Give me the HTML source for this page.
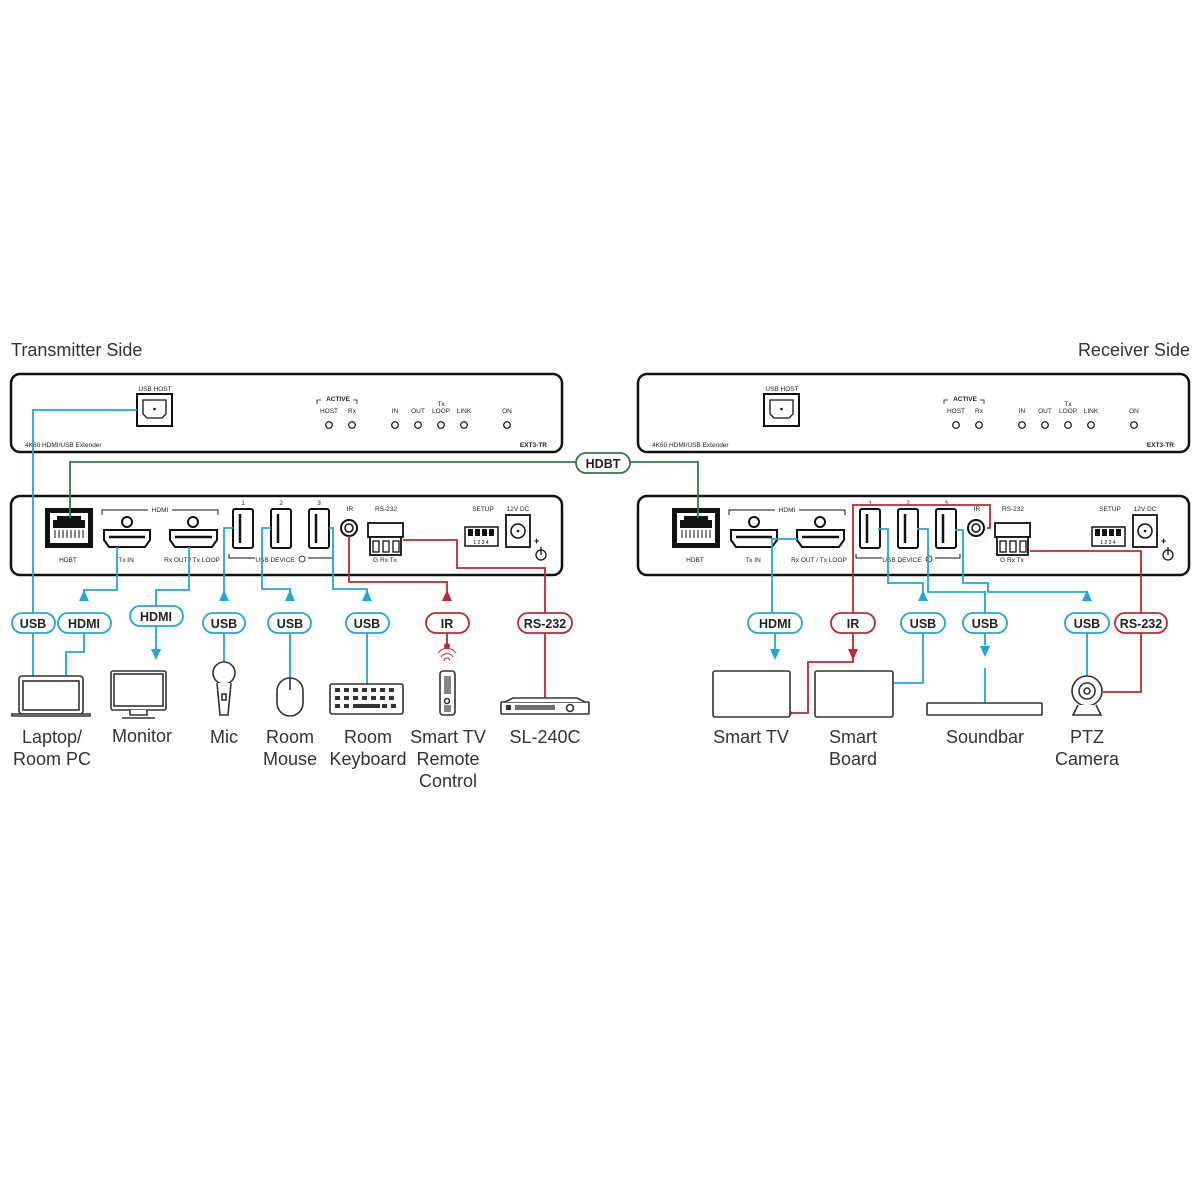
<!DOCTYPE html>
<html><head><meta charset="utf-8"><style>
html,body{margin:0;padding:0;background:#fff;}
svg{display:block;font-family:"Liberation Sans","DejaVu Sans",sans-serif;}
.s{font-size:6.5px;fill:#222;}
.lbl{font-size:18px;fill:#333;text-anchor:middle;}
.pill{font-size:12.5px;font-weight:bold;text-anchor:middle;}
</style></head><body>
<svg width="1200" height="1200" viewBox="0 0 1200 1200" xmlns="http://www.w3.org/2000/svg">
<defs>
<g id="panel">
 <!-- top panel -->
 <rect x="11" y="374" width="551" height="78" rx="9" fill="#fff" stroke="#111" stroke-width="2.5"/>
 <text x="155" y="391" class="s" text-anchor="middle">USB HOST</text>
 <rect x="137" y="394" width="35" height="32" fill="#fff" stroke="#111" stroke-width="2"/>
 <path d="M143 400h23v14l-4 4h-15l-4-4z" fill="none" stroke="#111" stroke-width="1.3"/>
 <circle cx="154.5" cy="409" r="1.3" fill="#111"/>
 <path d="M317 404v-4h4M357 404v-4h-4" fill="none" stroke="#111" stroke-width="0.8"/>
 <text x="338" y="401" class="s" text-anchor="middle" font-weight="bold">ACTIVE</text>
 <text x="441" y="406" class="s" text-anchor="middle">Tx</text>
 <g class="s" text-anchor="middle">
  <text x="329" y="413">HOST</text><text x="352" y="413">Rx</text><text x="395" y="413">IN</text><text x="418" y="413">OUT</text><text x="441" y="413">LOOP</text><text x="464" y="413">LINK</text><text x="507" y="413">ON</text>
 </g>
 <g fill="#fff" stroke="#111" stroke-width="1.2">
  <circle cx="329" cy="425" r="3.3"/><circle cx="352" cy="425" r="3.3"/><circle cx="395" cy="425" r="3.3"/><circle cx="418" cy="425" r="3.3"/><circle cx="441" cy="425" r="3.3"/><circle cx="464" cy="425" r="3.3"/><circle cx="507" cy="425" r="3.3"/>
 </g>
 <text x="25" y="447" class="s">4K60 HDMI/USB Extender</text>
 <text x="547" y="447" class="s" text-anchor="end" font-weight="bold">EXT3-TR</text>
 <!-- bottom panel -->
 <rect x="11" y="496" width="551" height="79" rx="9" fill="#fff" stroke="#111" stroke-width="2.5"/>
 <rect x="45" y="508" width="48" height="40" fill="#111"/>
 <path d="M50 513h38v30h-38z M57 516h24v4h4v8h-32v-8h4z" fill="#fff" fill-rule="evenodd"/>
 <rect x="52" y="530" width="34" height="10" fill="#fff"/>
 <path d="M55 530v8M59 530v8M63 530v8M67 530v8M71 530v8M75 530v8M79 530v8M83 530v8" stroke="#111" stroke-width="1"/>
 <text x="68" y="562" class="s" text-anchor="middle">HDBT</text>
 <path d="M102 515v-5h46M172 510h46v5" fill="none" stroke="#111" stroke-width="1"/>
 <text x="160" y="512" class="s" text-anchor="middle">HDMI</text>
 <g fill="#fff" stroke="#111" stroke-width="2">
  <path d="M104 530h46v10l-5 7h-36l-5-7z"/>
  <path d="M170 530h47v10l-5 7h-37l-5-7z"/>
  <circle cx="127" cy="522" r="5"/><circle cx="193" cy="522" r="5"/>
 </g>
 <path d="M109 537h36M175 537h37" stroke="#111" stroke-width="2.5"/>
 <text x="126" y="562" class="s" text-anchor="middle">Tx IN</text>
 <text x="192" y="562" class="s" text-anchor="middle">Rx OUT / Tx LOOP</text>
 <g fill="#fff" stroke="#111" stroke-width="2">
  <rect x="233" y="509" width="20" height="39" rx="2"/><rect x="271" y="509" width="20" height="39" rx="2"/><rect x="309" y="509" width="20" height="39" rx="2"/>
 </g>
 <path d="M240 514v29M278 514v29M316 514v29" stroke="#111" stroke-width="2.5"/>
 <g class="s" text-anchor="middle"><text x="243" y="505">1</text><text x="281" y="505">2</text><text x="319" y="505">3</text></g>
 <path d="M229 554v4h26M308 558h25v-4" fill="none" stroke="#111" stroke-width="1"/>
 <text x="275" y="562" class="s" text-anchor="middle">USB DEVICE</text>
 <circle cx="302" cy="559" r="3" fill="none" stroke="#111" stroke-width="0.8"/>
 <text x="350" y="511" class="s" text-anchor="middle">IR</text>
 <circle cx="349" cy="528" r="8" fill="#fff" stroke="#111" stroke-width="2"/><circle cx="349" cy="528" r="4" fill="#fff" stroke="#111" stroke-width="1.5"/>
 <text x="386" y="511" class="s" text-anchor="middle">RS-232</text>
 <rect x="368" y="523" width="35" height="14" fill="#fff" stroke="#111" stroke-width="1.8"/>
 <rect x="370" y="537" width="31" height="18" fill="#fff" stroke="#111" stroke-width="1.8"/>
 <g fill="#fff" stroke="#111" stroke-width="1.3"><rect x="373" y="541" width="6" height="11"/><rect x="383" y="541" width="6" height="11"/><rect x="393" y="541" width="6" height="11"/></g>
 <text x="385" y="562" class="s" text-anchor="middle">G Rx Tx</text>
 <text x="483" y="511" class="s" text-anchor="middle">SETUP</text>
 <rect x="465" y="527" width="33" height="19" fill="#fff" stroke="#111" stroke-width="1.5"/>
 <g fill="#111"><rect x="468" y="529" width="5" height="7"/><rect x="475" y="529" width="5" height="7"/><rect x="482" y="529" width="5" height="7"/><rect x="489" y="529" width="5" height="7"/></g>
 <text x="481" y="544" style="font-size:5px" text-anchor="middle">1 2 3 4</text>
 <text x="518" y="511" class="s" text-anchor="middle">12V DC</text>
 <rect x="506" y="515" width="24" height="32" fill="#fff" stroke="#111" stroke-width="1.8"/>
 <circle cx="518" cy="531" r="7" fill="none" stroke="#111" stroke-width="1.5"/><circle cx="518" cy="531" r="1.3" fill="#111"/>
 <text x="534" y="544" style="font-size:9px" font-weight="bold">+</text>
 <circle cx="541" cy="555" r="5" fill="none" stroke="#111" stroke-width="1.3"/><path d="M541 547v8" stroke="#111" stroke-width="1.3"/>
</g>
</defs>

<text x="11" y="356" style="font-size:18px;fill:#333">Transmitter Side</text>
<text x="1190" y="356" style="font-size:18px;fill:#333" text-anchor="end">Receiver Side</text>

<use href="#panel"/>
<use href="#panel" x="627"/>

<!-- HDBT green -->
<g fill="none" stroke="#2e7a47" stroke-width="1.8">
 <path d="M70 518V462H576M630 462H698V518"/>
</g>
<rect x="576" y="453" width="54" height="20" rx="10" fill="#fff" stroke="#2e7a47" stroke-width="1.8"/>
<text x="603" y="468" class="pill" fill="#222">HDBT</text>

<!-- TX blue lines -->
<g fill="none" stroke="#1ea7dd" stroke-width="1.8">
 <path d="M137 410H33V676"/>
 <path d="M117 547V590H84V598M84 633V652H66V676"/>
 <path d="M189 547V590H156V607M156 626V655"/>
 <path d="M233 528H224V598M224 633V662"/>
 <path d="M271 528H262V589H290V598M290 633V678"/>
 <path d="M329 528H333V589H367V598M367 633V684"/>
 <!-- RX -->
 <path d="M797 539H772V613M775 633V655"/>
 <path d="M878 529H888V583H923V598M923 633V683H893"/>
 <path d="M917 529H928V592H985V613M985 633V645M985 668V703"/>
 <path d="M955 530H963V583H988V592H1087V598M1087 633V677"/>
</g>
<g fill="#1ea7dd">
 <path d="M84 590l-5 11h10z"/><path d="M224 590l-5 11h10z"/><path d="M290 590l-5 11h10z"/><path d="M367 590l-5 11h10z"/>
 <path d="M156 660l-5-11h10z"/>
 <path d="M775 660l-5-11h10z"/>
 <path d="M923 590l-5 11h10z"/><path d="M1087 590l-5 11h10z"/>
 <path d="M985 657l-5-11h10z"/>
</g>
<!-- red lines -->
<g fill="none" stroke="#c4252f" stroke-width="1.8">
 <path d="M349 536V582H447V598M447 633V646"/>
 <path d="M403 540H457V568H545V613M545 633V698"/>
 <path d="M987 528H990V505H853V613M853 633V662H808V713H790"/>
 <path d="M1030 551H1141V613M1141 633V692H1103"/>
</g>
<g fill="#c4252f">
 <path d="M447 590l-5 11h10z"/><circle cx="447" cy="646" r="3"/>
 <path d="M853 660l-5-11h10z"/><circle cx="790" cy="713" r="2"/>
</g>
<path d="M441 657a7 7 0 0 1 12 0M438 653a11 11 0 0 1 18 0M444 661a3 3 0 0 1 6 0" fill="none" stroke="#c4252f" stroke-width="1"/>

<!-- pills -->
<g stroke-width="1.8" fill="#fff">
 <g stroke="#1ea7dd">
  <rect x="12" y="613" width="43" height="20" rx="10"/><rect x="58" y="613" width="53" height="20" rx="10"/><rect x="130" y="606" width="53" height="20" rx="10"/>
  <rect x="203" y="613" width="42" height="20" rx="10"/><rect x="268" y="613" width="43" height="20" rx="10"/><rect x="346" y="613" width="43" height="20" rx="10"/>
  <rect x="748" y="613" width="54" height="20" rx="10"/><rect x="901" y="613" width="44" height="20" rx="10"/><rect x="963" y="613" width="44" height="20" rx="10"/><rect x="1065" y="613" width="44" height="20" rx="10"/>
 </g>
 <g stroke="#c4252f">
  <rect x="426" y="613" width="43" height="20" rx="10"/><rect x="518" y="613" width="54" height="20" rx="10"/>
  <rect x="831" y="613" width="44" height="20" rx="10"/><rect x="1115" y="613" width="52" height="20" rx="10"/>
 </g>
</g>
<g class="pill" fill="#222">
 <text x="33" y="628">USB</text><text x="84" y="628">HDMI</text><text x="156" y="621">HDMI</text><text x="224" y="628">USB</text><text x="290" y="628">USB</text><text x="367" y="628">USB</text>
 <text x="447" y="628">IR</text><text x="545" y="628">RS-232</text>
 <text x="775" y="628">HDMI</text><text x="853" y="628">IR</text><text x="923" y="628">USB</text><text x="985" y="628">USB</text><text x="1087" y="628">USB</text><text x="1141" y="628">RS-232</text>
</g>

<!-- devices -->
<g fill="#fff" stroke="#333" stroke-width="1.6">
 <rect x="19" y="676" width="64" height="38" rx="3"/><rect x="23" y="681" width="56" height="29"/>
 <path d="M12 714h78v2H12z"/>
 <rect x="111" y="671" width="55" height="39" rx="2"/><rect x="114" y="674" width="49" height="32"/>
 <path d="M130 710v5h17v-5M122 718h33"/>
 <circle cx="224" cy="673" r="11"/><path d="M217 683l3 32h8l3-32"/><rect x="222" y="694" width="4" height="6"/>
 <rect x="277" y="678" width="26" height="38" rx="13"/><path d="M290 678v12"/>
 <rect x="330" y="684" width="73" height="30" rx="2"/>
 <rect x="440" y="671" width="15" height="44" rx="3"/><circle cx="447" cy="701" r="2.5"/>
 <rect x="501" y="702" width="88" height="12" rx="1"/><path d="M505 702l8-4h64l8 4"/><circle cx="570" cy="708" r="3.5"/>
 <!-- RX devices -->
 <rect x="713" y="671" width="77" height="46" rx="2"/>
 <rect x="815" y="671" width="78" height="46" rx="2"/>
 <rect x="927" y="703" width="115" height="12" rx="1"/>
 <circle cx="1087" cy="691" r="15"/><circle cx="1087" cy="691" r="8"/><circle cx="1087" cy="691" r="3"/>
 <path d="M1078 705l-5 10h28l-5-10"/>
</g>
<g fill="#333">
 <rect x="335" y="688" width="5" height="4"/><rect x="344" y="688" width="5" height="4"/><rect x="353" y="688" width="5" height="4"/><rect x="362" y="688" width="5" height="4"/><rect x="371" y="688" width="5" height="4"/><rect x="380" y="688" width="5" height="4"/><rect x="389" y="688" width="5" height="4"/>
 <rect x="335" y="696" width="5" height="4"/><rect x="344" y="696" width="5" height="4"/><rect x="353" y="696" width="5" height="4"/><rect x="362" y="696" width="5" height="4"/><rect x="371" y="696" width="5" height="4"/><rect x="380" y="696" width="5" height="4"/><rect x="389" y="696" width="5" height="4"/>
 <rect x="335" y="704" width="5" height="4"/><rect x="344" y="704" width="5" height="4"/><rect x="353" y="704" width="27" height="4"/><rect x="382" y="704" width="5" height="4"/><rect x="391" y="704" width="5" height="4"/>
 <rect x="444" y="676" width="7" height="18" opacity="0.6"/><rect x="444" y="705" width="7" height="7" opacity="0.6"/>
 <rect x="506" y="705" width="5" height="5"/><rect x="515" y="705" width="40" height="5" opacity="0.7"/>
</g>

<!-- device labels -->
<g class="lbl">
 <text x="52" y="743">Laptop/</text><text x="52" y="765">Room PC</text>
 <text x="142" y="742">Monitor</text>
 <text x="224" y="743">Mic</text>
 <text x="290" y="743">Room</text><text x="290" y="765">Mouse</text>
 <text x="368" y="743">Room</text><text x="368" y="765">Keyboard</text>
 <text x="448" y="743">Smart TV</text><text x="448" y="765">Remote</text><text x="448" y="787">Control</text>
 <text x="545" y="743">SL-240C</text>
 <text x="751" y="743">Smart TV</text>
 <text x="853" y="743">Smart</text><text x="853" y="765">Board</text>
 <text x="985" y="743">Soundbar</text>
 <text x="1087" y="743">PTZ</text><text x="1087" y="765">Camera</text>
</g>
</svg>
</body></html>
